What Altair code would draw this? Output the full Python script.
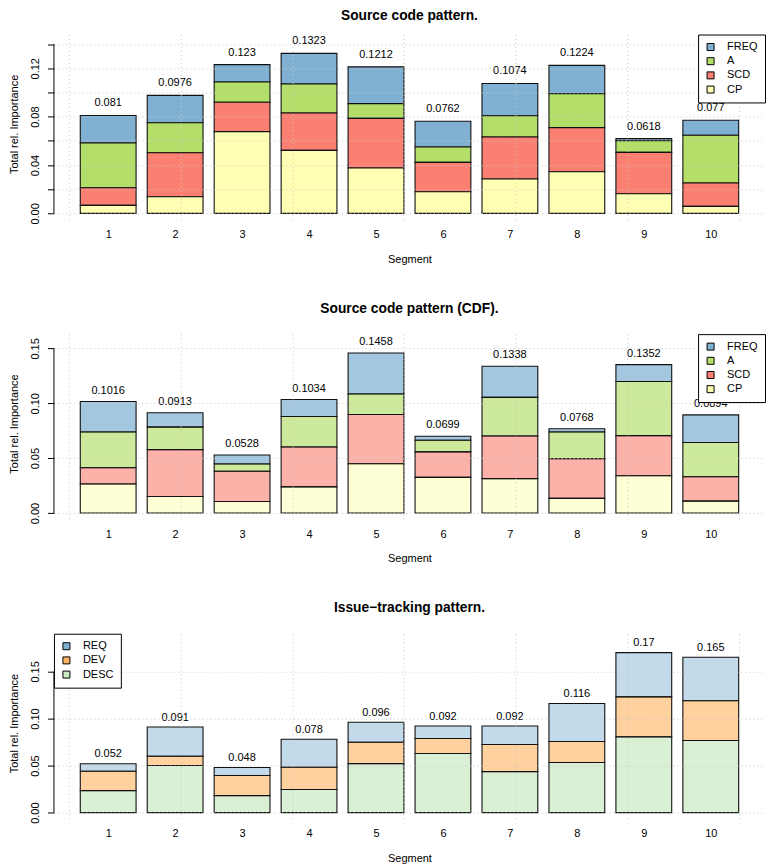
import altair as alt
import pandas as pd

FONT = "Liberation Sans"
segments = list(range(1, 11))

# ---------------- Panel 1: Source code pattern ----------------
p1_title = "Source code pattern."
p1_names = ["FREQ", "A", "SCD", "CP"]  # legend order, top -> bottom
p1_freq = [0.0228, 0.0226, 0.0143, 0.0253, 0.0304, 0.0213, 0.0266, 0.0234, 0.0017, 0.0124]
p1_a    = [0.0370, 0.0248, 0.0168, 0.0240, 0.0122, 0.0127, 0.0176, 0.0281, 0.0096, 0.0395]
p1_scd  = [0.0146, 0.0364, 0.0243, 0.0309, 0.0411, 0.0243, 0.0348, 0.0364, 0.0342, 0.0193]
p1_cp   = [0.0066, 0.0138, 0.0676, 0.0521, 0.0375, 0.0179, 0.0284, 0.0345, 0.0163, 0.0058]
p1_totals = [0.081, 0.0976, 0.123, 0.1323, 0.1212, 0.0762, 0.1074, 0.1224, 0.0618, 0.077]
p1_colors = ["#80B1D3", "#B3DE69", "#FB8072", "#FFFFB3"]
p1_opacity = [1.0, 1.0, 0.78, 1.0]
p1_yticks = [0.00, 0.02, 0.04, 0.06, 0.08, 0.10, 0.12, 0.14]
p1_ylabels = [0.00, 0.04, 0.08, 0.12]

# ---------------- Panel 2: Source code pattern (CDF) ----------------
p2_title = "Source code pattern (CDF)."
p2_names = ["FREQ", "A", "SCD", "CP"]
p2_freq = [0.0278, 0.0130, 0.0082, 0.0154, 0.0374, 0.0036, 0.0284, 0.0030, 0.0153, 0.0252]
p2_a    = [0.0325, 0.0205, 0.0066, 0.0278, 0.0186, 0.0106, 0.0352, 0.0244, 0.0494, 0.0311]
p2_scd  = [0.0148, 0.0427, 0.0275, 0.0364, 0.0449, 0.0232, 0.0389, 0.0361, 0.0365, 0.0223]
p2_cp   = [0.0265, 0.0151, 0.0105, 0.0238, 0.0449, 0.0325, 0.0313, 0.0133, 0.0340, 0.0108]
p2_totals = [0.1016, 0.0913, 0.0528, 0.1034, 0.1458, 0.0699, 0.1338, 0.0768, 0.1352, 0.0894]
p2_colors = ["#80B1D3", "#B3DE69", "#FB8072", "#FFFFB3"]
p2_opacity = [0.72, 0.55, 0.7, 0.8]
p2_yticks = [0.00, 0.05, 0.10, 0.15]
p2_ylabels = [0.00, 0.05, 0.10, 0.15]

# ---------------- Panel 3: Issue-tracking pattern ----------------
p3_title = "Issue\u2212tracking pattern."
p3_names = ["REQ", "DEV", "DESC"]
p3_req  = [0.0080, 0.0311, 0.0086, 0.0298, 0.0212, 0.0133, 0.0197, 0.0405, 0.0470, 0.0462]
p3_dev  = [0.0206, 0.0099, 0.0213, 0.0237, 0.0227, 0.0159, 0.0287, 0.0223, 0.0425, 0.0422]
p3_desc = [0.0234, 0.0500, 0.0181, 0.0245, 0.0521, 0.0628, 0.0436, 0.0532, 0.0805, 0.0766]
p3_totals = [0.052, 0.091, 0.048, 0.078, 0.096, 0.092, 0.092, 0.116, 0.17, 0.165]
p3_colors = ["#80B1D3", "#FDB462", "#CCEBC5"]
p3_opacity = [0.48, 0.75, 0.55]
p3_yticks = [0.00, 0.05, 0.10, 0.15]
p3_ylabels = [0.00, 0.05, 0.10, 0.15]

# x-grid ticks (R pretty ticks of the barplot user range)
grid_x = [0, 2, 4, 6, 8, 10, 12]

# barplot layout constants (R defaults: width 1, space 0.2)
BAR_W = 1.0
BAR_SPACE = 0.2
LABEL_GAP = 0.01   # total labels drawn at total + 0.01
YLIM_MULT = 1.075

W, H = 712, 186
GRID = "#C8C8C8"


def make_panel(title, names, values, totals, colors, opac, yticks, ylabels,
               legend_x, title_offset):
    n = len(names)
    rows = []
    for k, (name, vals) in enumerate(zip(names, values)):
        for seg, v in zip(segments, vals):
            rows.append({"Segment": seg, "series": name, "value": v, "order": n - 1 - k})
    df = pd.DataFrame(rows)
    tot = pd.DataFrame({"Segment": segments, "total": totals,
                        "label": [str(t) for t in totals]})
    axdf = pd.DataFrame({"lo": [min(yticks)], "hi": [max(yticks)]})

    step = BAR_W + BAR_SPACE
    lo = BAR_SPACE
    hi = len(segments) * step
    pad = 0.04 * (hi - lo)
    xscale = alt.Scale(domain=[lo - pad, hi + pad], nice=False, zero=False)
    r = max(totals) * YLIM_MULT
    yscale = alt.Scale(domain=[-0.04 * r, 1.04 * r], nice=False, zero=False)
    centers = [s * step - BAR_W / 2 for s in segments]

    ylab_expr = f"indexof({list(ylabels)}, datum.value) >= 0 ? format(datum.value, '.2f') : ''"
    xlab_expr = f"format((datum.value + {BAR_W / 2}) / {step}, '.0f')"

    rects = (
        alt.Chart(df)
        .transform_calculate(
            x0=f"datum.Segment * {step} - {BAR_W}",
            x1=f"datum.Segment * {step}",
        )
        .transform_stack(stack="value", groupby=["Segment"], as_=["y0", "y1"],
                         sort=[alt.SortField("order", order="ascending")])
        .mark_rect(stroke="#111111", strokeWidth=1.1)
        .encode(
            x=alt.X("x0:Q", scale=xscale,
                    axis=alt.Axis(values=centers, labelExpr=xlab_expr, grid=False,
                                  ticks=False, tickSize=0, domain=False,
                                  labelPadding=14.5, labelBaseline="middle",
                                  labelFontSize=11, labelFont=FONT, labelColor="black",
                                  labelFlush=False, labelOverlap=False,
                                  title="Segment", titleY=39, titleBaseline="middle",
                                  titleFontSize=11, titleFont=FONT,
                                  titleFontWeight="normal", titleColor="black",
                                  orient="bottom")),
            x2="x1:Q",
            y=alt.Y("y0:Q", scale=yscale,
                    axis=alt.Axis(values=yticks, labelExpr=ylab_expr, grid=True,
                                  gridColor=GRID, gridDash=[1, 3], gridWidth=1,
                                  domain=False, ticks=True, tickSize=6.5,
                                  tickColor="black", tickWidth=1,
                                  labelAngle=270, labelAlign="center",
                                  labelBaseline="alphabetic", labelPadding=8.5,
                                  labelFontSize=11, labelFont=FONT, labelColor="black",
                                  labelFlush=False, labelOverlap=False,
                                  title="Total rel. Importance", titleAngle=270,
                                  titleAlign="center", titleBaseline="alphabetic",
                                  titleX=-36.5, titleY=89.5, titleFontSize=11,
                                  titleFont=FONT, titleFontWeight="normal",
                                  titleColor="black", zindex=1, orient="left")),
            y2="y1:Q",
            color=alt.Color("series:N", scale=alt.Scale(domain=names, range=colors),
                            legend=alt.Legend(orient="none", legendX=legend_x, legendY=0,
                                              title=None, strokeColor="black",
                                              fillColor="white", padding=7,
                                              cornerRadius=0, symbolType="square",
                                              symbolSize=49, symbolStrokeColor="black",
                                              symbolStrokeWidth=1, symbolOffset=0,
                                              labelFontSize=11, labelFont=FONT,
                                              labelColor="black", labelOffset=11,
                                              rowPadding=2.2, zindex=2)),
            fillOpacity=alt.FillOpacity("series:N",
                                        scale=alt.Scale(domain=names, range=opac),
                                        legend=None),
        )
    )

    texts = (
        alt.Chart(tot)
        .transform_calculate(
            xc=f"datum.Segment * {step} - {BAR_W / 2}",
            ty=f"datum.total + {LABEL_GAP}",
        )
        .mark_text(fontSize=11, font=FONT, color="black", baseline="middle", align="center")
        .encode(
            x=alt.X("xc:Q", scale=xscale,
                    axis=alt.Axis(values=grid_x, grid=True, gridColor=GRID,
                                  gridDash=[1, 3], gridWidth=1, labels=False,
                                  ticks=False, domain=False, title=None, zindex=1,
                                  orient="bottom")),
            y=alt.Y("ty:Q", scale=yscale, axis=None),
            text="label:N",
        )
    )

    yline = (
        alt.Chart(axdf)
        .mark_rule(color="black", strokeWidth=1)
        .encode(y=alt.Y("lo:Q", scale=yscale, axis=None), y2="hi:Q", x=alt.value(0))
    )

    return (
        alt.layer(rects, texts, yline)
        .resolve_axis(x="independent", y="independent")
        .properties(
            width=W, height=H,
            view=alt.ViewBackground(stroke="transparent", strokeWidth=0),
            title=alt.TitleParams(text=title, fontSize=13.8, fontWeight="bold", font=FONT,
                                  color="black", anchor="middle", frame="group",
                                  offset=title_offset, baseline="middle"),
        )
    )


p1 = make_panel(p1_title, p1_names, [p1_freq, p1_a, p1_scd, p1_cp], p1_totals,
                p1_colors, p1_opacity, p1_yticks, p1_ylabels, 645, 4)
p2 = make_panel(p2_title, p2_names, [p2_freq, p2_a, p2_scd, p2_cp], p2_totals,
                p2_colors, p2_opacity, p2_yticks, p2_ylabels, 645, 11)
p3 = make_panel(p3_title, p3_names, [p3_req, p3_dev, p3_desc], p3_totals,
                p3_colors, p3_opacity, p3_yticks, p3_ylabels, 0, 11)

chart = (
    alt.vconcat(p1, p2, p3, spacing=114, bounds="flush")
    .resolve_scale(color="independent", fillOpacity="independent",
                   x="independent", y="independent")
    .resolve_legend(color="independent")
    .properties(padding=0)
    .configure_view(stroke="transparent", strokeWidth=0)
    .configure(font=FONT)
)

chart.save("out.html", embed_options={"renderer": "svg", "actions": False})
